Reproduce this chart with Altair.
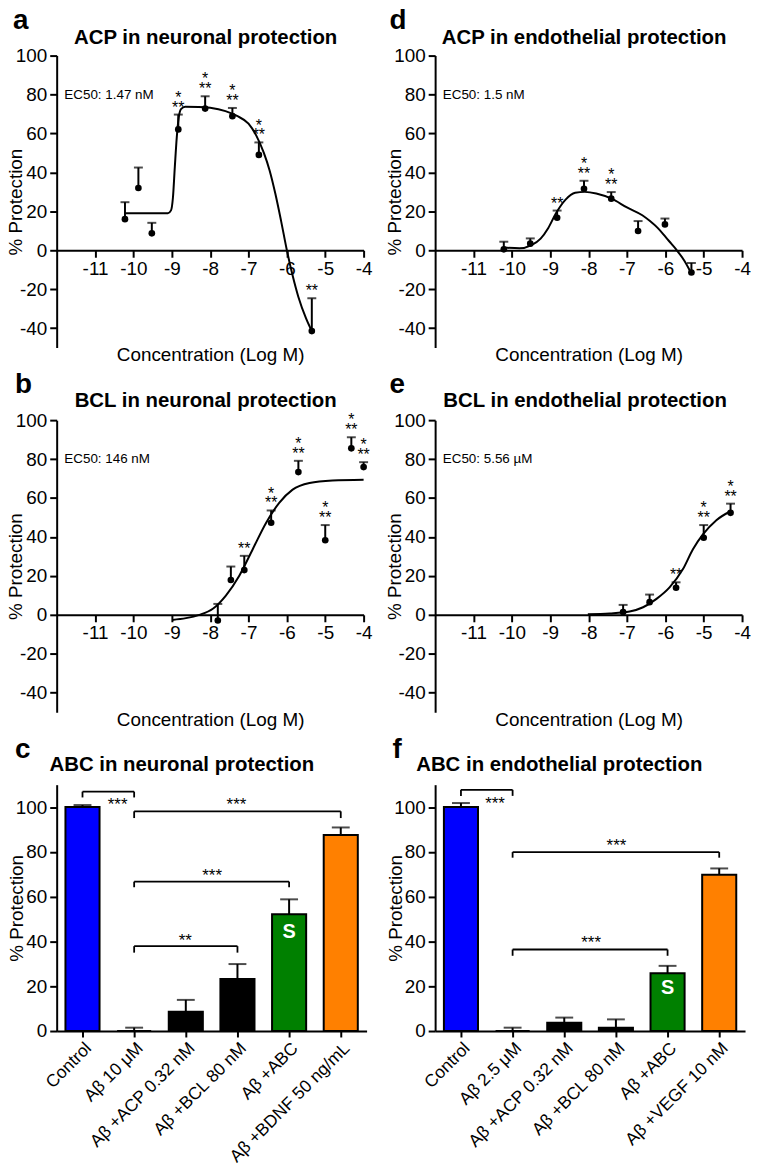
import altair as alt
import pandas as pd

FONT = "Liberation Sans"

# ---------------- text ----------------
panel_letters = ["a", "d", "b", "e", "c", "f"]
panel_titles = ["ACP in neuronal protection", "ACP in endothelial protection",
                "BCL in neuronal protection", "BCL in endothelial protection",
                "ABC in neuronal protection", "ABC in endothelial protection"]
ec50_labels = ["EC50: 1.47 nM", "EC50: 1.5 nM", "EC50: 146 nM", "EC50: 5.56 µM"]
ec50_x = -11.8
ec50_y = 80
x_title = "Concentration (Log M)"
y_title = "% Protection"
x_ticks = [-11, -10, -9, -8, -7, -6, -5, -4]
y_ticks_dose = [-40, -20, 0, 20, 40, 60, 80, 100]
y_ticks_bar = [0, 20, 40, 60, 80, 100]

# ---------------- panel a : ACP neuronal ----------------
a_x = [-10.22, -9.87, -9.52, -8.83, -8.13, -7.42, -6.73, -5.35]
a_mean = [16.0, 32.0, 8.7, 62.1, 72.8, 68.9, 49.0, -41.5]
a_upper = [24.7, 42.5, 14.1, 69.7, 79.1, 73.1, 55.4, -24.7]
a_sig1 = ["", "", "", "*", "*", "*", "*", ""]
a_sig2 = ["", "", "", "**", "**", "**", "**", "**"]
a_fit_x = [-10.22, -9.6, -9.1, -9.02, -8.97, -8.92, -8.87, -8.82, -8.76, -8.65, -8.3, -8.0,
           -7.6, -7.3, -7.0, -6.8, -6.6, -6.45, -6.3, -6.15, -6.0, -5.85, -5.7, -5.5, -5.35]
a_fit_y = [19, 19, 19, 20.5, 27, 43, 58, 68, 72.5, 73.7, 73.6, 73.2,
           71.5, 69, 65, 59, 50, 41, 29, 15, 0, -13, -24, -35, -41.5]

# ---------------- panel d : ACP endothelial ----------------
d_x = [-10.21, -9.52, -8.82, -8.12, -7.41, -6.71, -6.01, -5.32]
d_mean = [0.5, 3.4, 16.7, 31.6, 26.5, 9.9, 13.3, -11.4]
d_upper = [4.4, 6.1, 20.4, 35.7, 29.9, 15.0, 16.3, -6.5]
d_sig1 = ["", "", "", "*", "*", "", "", ""]
d_sig2 = ["", "", "**", "**", "**", "", "", ""]
d_fit_x = [-10.21, -9.8, -9.5, -9.25, -9.05, -8.85, -8.6, -8.35, -8.1, -7.8, -7.4,
           -7.0, -6.6, -6.4, -6.2, -6.0, -5.85, -5.7, -5.5, -5.32]
d_fit_y = [1.4, 1.0, 2.5, 6, 11.5, 19, 26, 29.5, 30, 29.2, 26.5,
           22, 18, 15, 11.5, 7, 3.5, 0, -5.5, -12]

# ---------------- panel b : BCL neuronal ----------------
b_x = [-7.80, -7.46, -7.11, -6.41, -5.70, -5.00, -4.32, -4.00]
b_mean = [-2.9, 17.9, 23.0, 47.3, 73.3, 38.3, 85.5, 75.9]
b_upper = [5.6, 24.8, 30.3, 53.6, 79.1, 46.1, 91.2, 78.4]
b_sig1 = ["", "", "", "*", "*", "*", "*", "*"]
b_sig2 = ["", "", "**", "**", "**", "**", "**", "**"]
b_fit_x = [-8.99, -8.63, -8.28, -7.93, -7.59, -7.24, -6.89, -6.54, -6.20, -5.85, -5.41, -4.81, -4.0]
b_fit_y = [-2.6, -1.7, 0, 3.1, 9.9, 20.1, 33.7, 47.3, 57.5, 64.3, 67.7, 69.0, 69.4]

# ---------------- panel e : BCL endothelial ----------------
e_x = [-7.10, -6.41, -5.72, -5.00, -4.30]
e_mean = [1.4, 6.5, 13.9, 39.6, 52.4]
e_upper = [5.1, 10.4, 16.7, 46.1, 57.1]
e_sig1 = ["", "", "", "*", "*"]
e_sig2 = ["", "", "**", "**", "**"]
e_fit_x = [-8.02, -7.45, -6.93, -6.58, -6.23, -5.89, -5.54, -5.28, -5.02, -4.67, -4.30]
e_fit_y = [0.3, 0.7, 1.7, 3.9, 8.2, 14.1, 23.5, 33.7, 41.3, 48.6, 53.2]

# ---------------- panel c : ABC neuronal ----------------
c_cats = ["Control", "Aβ 10 μM", "Aβ +ACP 0.32 nM", "Aβ +BCL 80 nM", "Aβ +ABC", "Aβ +BDNF 50 ng/mL"]
c_vals = [100, 0, 8.6, 23.2, 52.1, 87.5]
c_upper = [100.9, 1.5, 13.9, 29.9, 58.8, 90.9]
c_br_start = [0, 1, 1, 1]
c_br_end = [1, 5, 4, 3]
c_br_top = [106.9, 98.1, 66.7, 37.9]
c_br_leg = [104.3, 95.1, 64.2, 35.0]
c_lab_x = [0.68, 2.98, 2.51, 1.99]
c_lab_y = [102.5, 102.5, 71.1, 42.0]
c_lab = ["***", "***", "***", "**"]
c_s_y = 44

# ---------------- panel f : ABC endothelial ----------------
f_cats = ["Control", "Aβ 2.5 μM", "Aβ +ACP 0.32 nM", "Aβ +BCL 80 nM", "Aβ +ABC", "Aβ +VEGF 10 nM"]
f_vals = [100, 0, 3.7, 1.5, 25.8, 69.8]
f_upper = [101.8, 1.5, 6.0, 5.2, 29.1, 72.6]
f_br_start = [0, 1, 1]
f_br_end = [1, 5, 4]
f_br_top = [107.7, 79.9, 36.4]
f_br_leg = [105.0, 77.4, 33.6]
f_lab_x = [0.66, 3.01, 2.52]
f_lab_y = [103.2, 84.4, 40.9]
f_lab = ["***", "***", "***"]
f_s_y = 19

bar_colors = ["#0000FF", "#000000", "#000000", "#000000", "#008000", "#FF8000"]
s_label = "S"
s_cat = "Aβ +ABC"

DW, DH = 309, 294
BW, BH = 312, 248


def ax(**kw):
    base = dict(grid=False, domainColor="black", domainWidth=2, tickColor="black", tickWidth=2,
                labelColor="black", titleColor="black", labelFont=FONT, titleFont=FONT,
                labelFontSize=19, titleFontSize=19, titleFontWeight="normal")
    base.update(kw)
    return alt.Axis(**base)


def header(letter, title, lx, cx, ty):
    df = pd.DataFrame({"letter": [letter], "title": [title]})
    let = alt.Chart(df).mark_text(font=FONT, fontSize=28, fontWeight="bold", align="left",
                                  baseline="alphabetic", color="black").encode(
        x=alt.value(lx), y=alt.value(-27), text="letter:N")
    tit = alt.Chart(df).mark_text(font=FONT, fontSize=20.5, fontWeight="bold", align="center",
                                  baseline="alphabetic", color="black").encode(
        x=alt.value(cx), y=alt.value(ty), text="title:N")
    return [let, tit]


def dose_panel(i, xs, means, uppers, sig1, sig2, fit_x, fit_y, ec50, lx, cx, ty):
    pts = pd.DataFrame({"x": xs, "m": means, "u": uppers, "s1": sig1, "s2": sig2})
    fit = pd.DataFrame({"x": fit_x, "y": fit_y})
    ecdf = pd.DataFrame({"x": [ec50_x], "y": [ec50_y], "t": [ec50]})
    xsc = alt.Scale(domain=[-12, -4], nice=False, zero=False)
    ysc = alt.Scale(domain=[-50, 100], nice=False, zero=False)
    xax = ax(values=x_ticks, offset=-98, labelExpr="'' + datum.value", tickSize=7,
             labelFlush=False, labelOverlap=False, labelPadding=2, title=x_title,
             titleX=DW / 2, titleY=105, titleAlign="center", titleBaseline="middle")
    yax = ax(values=y_ticks_dose, labelExpr="'' + datum.value", tickSize=7, labelPadding=3,
             labelOverlap=False, labelFlush=False, title=y_title, titleX=-41, titleY=DH / 2,
             titleAngle=270, titleAlign="center", titleBaseline="middle")
    X = alt.X("x:Q", scale=xsc, axis=xax)

    def Y(f):
        return alt.Y(f, type="quantitative", scale=ysc, axis=yax)

    line = alt.Chart(fit).mark_line(color="black", strokeWidth=2, interpolate="monotone").encode(x=X, y=Y("y"))
    rule = alt.Chart(pts).mark_rule(color="black", strokeWidth=2).encode(x=X, y=Y("m"), y2=alt.Y2("u"))
    cap = alt.Chart(pts).mark_tick(color="black", orient="horizontal", size=9, thickness=2).encode(x=X, y=Y("u"))
    dots = alt.Chart(pts).mark_circle(color="black", size=45, opacity=1).encode(x=X, y=Y("m"))
    st2 = alt.Chart(pts).mark_text(color="black", fontSize=16, baseline="alphabetic", dy=-2).encode(
        x=X, y=Y("u"), text="s2:N")
    st1 = alt.Chart(pts).mark_text(color="black", fontSize=16, baseline="alphabetic", dy=-12).encode(
        x=X, y=Y("u"), text="s1:N")
    ec = alt.Chart(ecdf).mark_text(color="black", fontSize=13.5, align="left", baseline="middle").encode(
        x=X, y=Y("y"), text="t:N")
    layers = [line, rule, cap, dots, st2, st1, ec] + header(panel_letters[i], panel_titles[i], lx, cx, ty)
    return alt.layer(*layers).properties(width=DW, height=DH)


def bar_panel(i, cats, vals, uppers, br_start, br_end, br_top, br_leg, lab_x, lab_y, lab, s_y, lx, cx, ty):
    df = pd.DataFrame({"cat": cats, "v": vals, "u": uppers, "col": bar_colors})
    xsc = alt.Scale(domain=cats, paddingInner=0.34, paddingOuter=0.17)
    xax = ax(title=None, labelAngle=-45, labelFontSize=17.5, tickSize=6, labelPadding=2,
             labelOverlap=False, labelLimit=0)
    Xn = alt.X("cat:N", sort=cats, scale=xsc, axis=xax)
    Xn0 = alt.X("cat:N", sort=cats, scale=xsc, axis=None)
    ysc = alt.Scale(domain=[0, 110], nice=False, zero=False)
    yax = ax(values=y_ticks_bar, tickSize=7, labelPadding=3, labelOverlap=False, labelFlush=False,
             title=y_title, titleX=-40, titleY=BH / 2, titleAngle=270, titleAlign="center",
             titleBaseline="middle")

    def Y(f):
        return alt.Y(f, type="quantitative", scale=ysc, axis=yax)

    brq = alt.Scale(domain=[-0.5, 5.5], nice=False, zero=False)
    br_df = pd.DataFrame({"s": br_start, "e": br_end, "top": br_top})
    legs_df = pd.DataFrame({"p": br_start + br_end, "top": br_top + br_top, "leg": br_leg + br_leg})
    lab_df = pd.DataFrame({"lx": lab_x, "ly": lab_y, "lt": lab})
    s_df = pd.DataFrame({"cat": [s_cat], "sy": [s_y], "st": [s_label]})

    bars = alt.Chart(df).mark_bar(stroke="black", strokeWidth=2).encode(
        x=Xn, y=Y("v"), color=alt.Color("col:N", scale=None, legend=None))
    err = alt.Chart(df).mark_rule(color="black", strokeWidth=2).encode(x=Xn0, y=Y("v"), y2=alt.Y2("u"))
    cap = alt.Chart(df).mark_tick(color="black", size=18, thickness=2).encode(x=Xn0, y=Y("u"))
    hbar = alt.Chart(br_df).mark_rule(color="black", strokeWidth=1.8).encode(
        x=alt.X("s:Q", scale=brq, axis=None), x2=alt.X2("e"), y=Y("top"))
    legs = alt.Chart(legs_df).mark_rule(color="black", strokeWidth=1.8).encode(
        x=alt.X("p:Q", scale=brq, axis=None), y=Y("top"), y2=alt.Y2("leg"))
    labs = alt.Chart(lab_df).mark_text(color="black", fontSize=17, baseline="alphabetic", dy=9).encode(
        x=alt.X("lx:Q", scale=brq, axis=None), y=Y("ly"), text="lt:N")
    s_txt = alt.Chart(s_df).mark_text(color="white", fontSize=20, fontWeight="bold", baseline="middle").encode(
        x=Xn0, y=Y("sy"), text="st:N")
    layers = [bars, err, cap, hbar, legs, labs, s_txt] + header(panel_letters[i], panel_titles[i], lx, cx, ty)
    return alt.layer(*layers).resolve_scale(x="independent").properties(width=BW, height=BH)


pa = dose_panel(0, a_x, a_mean, a_upper, a_sig1, a_sig2, a_fit_x, a_fit_y, ec50_labels[0], -44, 150, -12)
pd_ = dose_panel(1, d_x, d_mean, d_upper, d_sig1, d_sig2, d_fit_x, d_fit_y, ec50_labels[1], -46, 150, -12)
pb = dose_panel(2, b_x, b_mean, b_upper, b_sig1, b_sig2, b_fit_x, b_fit_y, ec50_labels[2], -42, 150, -13)
pe = dose_panel(3, e_x, e_mean, e_upper, e_sig1, e_sig2, e_fit_x, e_fit_y, ec50_labels[3], -46, 151, -13)
pc = bar_panel(4, c_cats, c_vals, c_upper, c_br_start, c_br_end, c_br_top, c_br_leg,
               c_lab_x, c_lab_y, c_lab, c_s_y, -42, 126, -14)
pf = bar_panel(5, f_cats, f_vals, f_upper, f_br_start, f_br_end, f_br_top, f_br_leg,
               f_lab_x, f_lab_y, f_lab, f_s_y, -43, 125, -14)

chart = alt.concat(pa, pd_, pb, pe, pc, pf, columns=2, spacing={"row": 73, "column": 69},
                   bounds="flush", align="all").properties(
    padding={"left": -1, "top": -5, "right": 0, "bottom": 0}).configure(font=FONT).configure_view(stroke=None)

chart.save("out.html", embed_options={"renderer": "svg", "actions": False})
